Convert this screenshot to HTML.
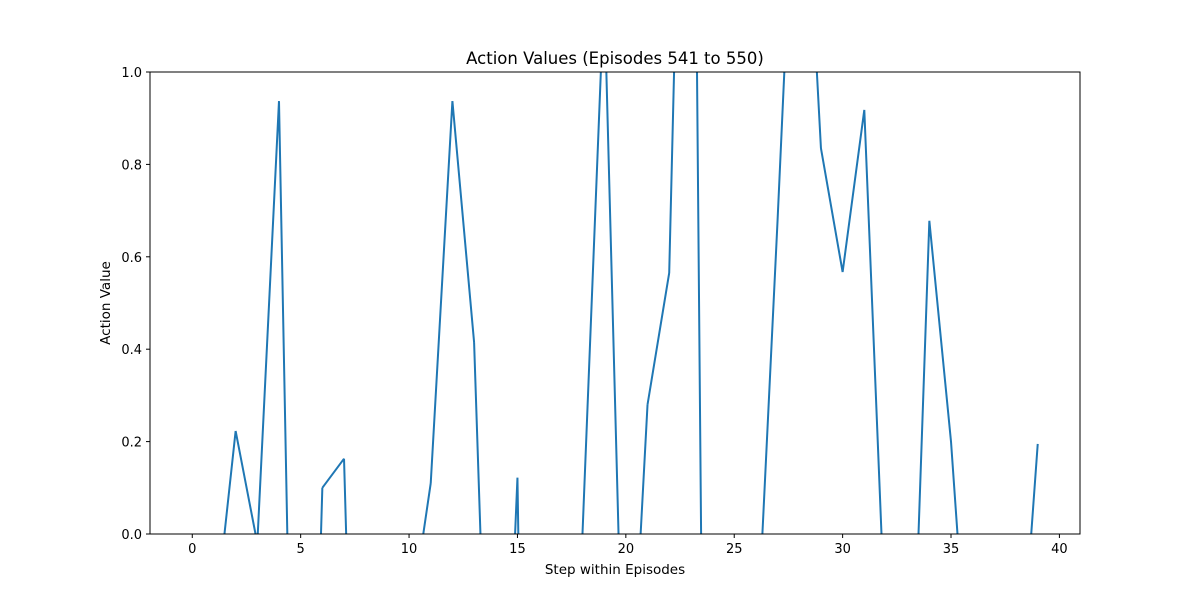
<!DOCTYPE html>
<html><head><meta charset="utf-8"><style>
html,body{margin:0;padding:0;background:#fff;overflow:hidden;width:1200px;height:600px;}
svg{display:block;}
svg text{font-family:"DejaVu Sans","Liberation Sans",sans-serif;fill:#000;}
</style></head><body>
<svg id="chart" width="1200" height="600">
<rect x="0" y="0" width="1200" height="600" fill="#fff"/>
<text x="615" y="64" font-size="16.5" text-anchor="middle">Action Values (Episodes 541 to 550)</text>
<g id="xticks"></g>
<g id="yticks"></g>
<path id="line" fill="none" stroke="#1f77b4" stroke-width="2"/>
<rect x="150" y="72" width="930" height="462" fill="none" stroke="#000" stroke-width="1"/>
<text x="615" y="574" font-size="13.5" text-anchor="middle">Step within Episodes</text>
<text transform="translate(110,303) rotate(-90)" font-size="13.5" text-anchor="middle">Action Value</text>
</svg>
<script>
const steps = Array.from({length:40},(_,i)=>i);
const values = [-0.5,-0.21,0.223,-0.02,0.937,-1.5,0.10,0.163,-1.5,-1.0,-0.21,0.11,0.937,0.415,-1.0,0.122,-2.9,-1.5,0.0,1.18,-0.6,0.28,0.565,2.5,-2.8,-1.0,-0.29,0.68,1.71,0.835,0.567,0.918,-0.24,-0.678,0.678,0.2,-0.47,-1.0,-0.455,0.195];
const xTicks = [0,5,10,15,20,25,30,35,40];
const yTicks = [0,0.2,0.4,0.6,0.8,1.0];
const X0=150,X1=1080,Y0=534,Y1=72,xmin=-1.95,xmax=40.95,ymin=0,ymax=1;
const sx=v=>X0+(v-xmin)/(xmax-xmin)*(X1-X0);
const sy=v=>Y0-(v-ymin)/(ymax-ymin)*(Y0-Y1);
const NS='http://www.w3.org/2000/svg';
const xg=document.getElementById('xticks'), yg=document.getElementById('yticks');
xTicks.forEach(t=>{
  const l=document.createElementNS(NS,'line');
  l.setAttribute('x1',sx(t));l.setAttribute('x2',sx(t));l.setAttribute('y1',Y0);l.setAttribute('y2',Y0+4);l.setAttribute('stroke','#000');
  
  
  xg.appendChild(l);
  const tx=document.createElementNS(NS,'text');
  tx.setAttribute('x',sx(t));tx.setAttribute('y',Y0+19);tx.setAttribute('font-size','13');tx.setAttribute('text-anchor','middle');tx.textContent=t;
  
  
  xg.appendChild(tx);
});
yTicks.forEach(t=>{
  const l=document.createElementNS(NS,'line');
  l.setAttribute('x1',X0-4);l.setAttribute('x2',X0);l.setAttribute('y1',sy(t));l.setAttribute('y2',sy(t));l.setAttribute('stroke','#000');
  
  
  yg.appendChild(l);
  const tx=document.createElementNS(NS,'text');
  tx.setAttribute('x',X0-8);tx.setAttribute('y',sy(t)+5);tx.setAttribute('font-size','13');tx.setAttribute('text-anchor','end');tx.textContent=t.toFixed(1);
  
  
  yg.appendChild(tx);
});
// clip each segment to [ymin, ymax] in data space
let d='';
for(let i=0;i<steps.length-1;i++){
  let xa=steps[i],ya=values[i],xb=steps[i+1],yb=values[i+1];
  let t0=0,t1=1;const dy=yb-ya;
  if(dy===0){ if(ya<ymin||ya>ymax) continue; }
  else{
    let ta=(ymin-ya)/dy, tb=(ymax-ya)/dy;
    let lo=Math.min(ta,tb), hi=Math.max(ta,tb);
    t0=Math.max(t0,lo); t1=Math.min(t1,hi);
    if(t0>t1) continue;
  }
  const px0=xa+(xb-xa)*t0, py0=ya+dy*t0, px1=xa+(xb-xa)*t1, py1=ya+dy*t1;
  d+='M'+sx(px0).toFixed(2)+','+sy(py0).toFixed(2)+' L'+sx(px1).toFixed(2)+','+sy(py1).toFixed(2)+' ';
}
document.getElementById('line').setAttribute('d',d);
document.getElementById('line').setAttribute('stroke-linejoin','round');
</script>
</body></html>
